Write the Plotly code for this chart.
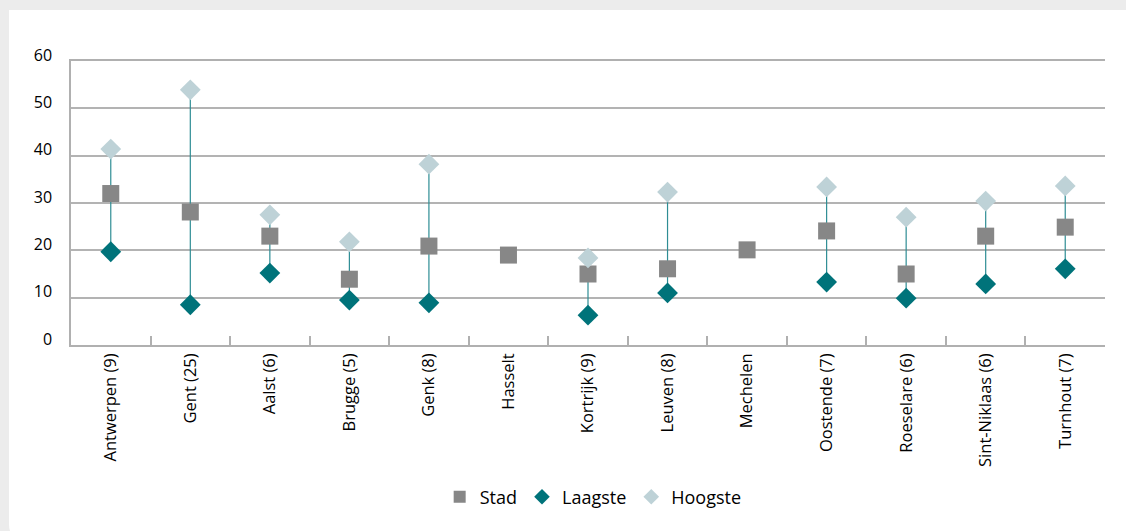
import plotly.graph_objects as go

cities = ["Antwerpen (9)", "Gent (25)", "Aalst (6)", "Brugge (5)", "Genk (8)", "Hasselt",
          "Kortrijk (9)", "Leuven (8)", "Mechelen", "Oostende (7)", "Roeselare (6)",
          "Sint-Niklaas (6)", "Turnhout (7)"]
stad = [32.0, 28.1, 23.0, 13.9, 20.9, 19.0, 15.0, 16.1, 20.1, 24.1, 15.0, 23.0, 24.9]
laagste = [19.7, 8.5, 15.2, 9.5, 8.9, None, 6.3, 11.0, None, 13.3, 9.9, 12.9, 16.1]
hoogste = [41.4, 53.9, 27.5, 21.8, 38.2, None, 18.4, 32.3, None, 33.4, 27.0, 30.4, 33.6]
y_ticks = [0, 10, 20, 30, 40, 50, 60]

FONT = "Open Sans"

# range lines from lowest to highest
lx, ly = [], []
for c, lo, hi in zip(cities, laagste, hoogste):
    if lo is None or hi is None:
        continue
    lx += [c, c, None]
    ly += [lo, hi, None]

fig = go.Figure()
fig.add_trace(go.Scatter(x=lx, y=ly, mode="lines", line=dict(color="#2e8d94", width=1.2),
                         showlegend=False, hoverinfo="skip"))
fig.add_trace(go.Scatter(x=cities, y=stad, mode="markers", name="Stad",
                         marker=dict(symbol="square", size=17, color="#878787")))
fig.add_trace(go.Scatter(x=cities, y=laagste, mode="markers", name="Laagste",
                         marker=dict(symbol="diamond", size=16, color="#00737a")))
fig.add_trace(go.Scatter(x=cities, y=hoogste, mode="markers", name="Hoogste",
                         marker=dict(symbol="diamond", size=16, color="#bed2d7")))

# background panel (white card on light grey page)
L, T, B = 71, 61, 345
W, H = 1034, 284
def px(x):
    return (x - L) / W
def py(y):
    return (B - y) / H
r = 16
path = (f"M {px(9)},{py(10)} L {px(1140)},{py(10)} L {px(1140)},{py(540)} "
        f"L {px(9 + r)},{py(540)} Q {px(9)},{py(540)} {px(9)},{py(540 - r)} Z")

fig.update_layout(
    width=1126, height=531,
    margin=dict(l=L, r=1126 - L - W, t=T, b=531 - B),
    paper_bgcolor="#ececec", plot_bgcolor="rgba(0,0,0,0)",
    font=dict(family=FONT, color="#000000"),
    shapes=[dict(type="path", xref="paper", yref="paper", path=path,
                 fillcolor="white", line=dict(width=0), layer="below")],
    xaxis=dict(type="category", categoryorder="array", categoryarray=cities,
               range=[-0.5, 12.5], tickangle=-90,
               tickfont=dict(size=16.5, family=FONT, color="#000000"), showgrid=False,
               showline=True, mirror=True, linecolor="#b0b0b0", linewidth=1.5,
               ticks="inside", tickson="boundaries", ticklen=9,
               tickcolor="#b0b0b0", tickwidth=1.5),
    yaxis=dict(range=[0, 60], tickvals=y_ticks, showgrid=True, gridcolor="#b3b3b3",
               gridwidth=1.5, zeroline=False, showline=True, linecolor="#b0b0b0",
               linewidth=1.5, tickfont=dict(size=16, family=FONT, color="#000000"),
               ticks="", ticklabelstandoff=14, ticklabelshift=-6),
    legend=dict(orientation="h", x=0.505, xanchor="center", y=py(497), yanchor="middle",
                font=dict(size=18, family=FONT, color="#000000"),
                bgcolor="rgba(0,0,0,0)", itemsizing="constant"),
    hovermode=False,
)

fig.write_html("out.html",
               config={"displayModeBar": False},
               post_script="document.body.style.margin='0';"
                           "document.body.style.background='#ececec';")
